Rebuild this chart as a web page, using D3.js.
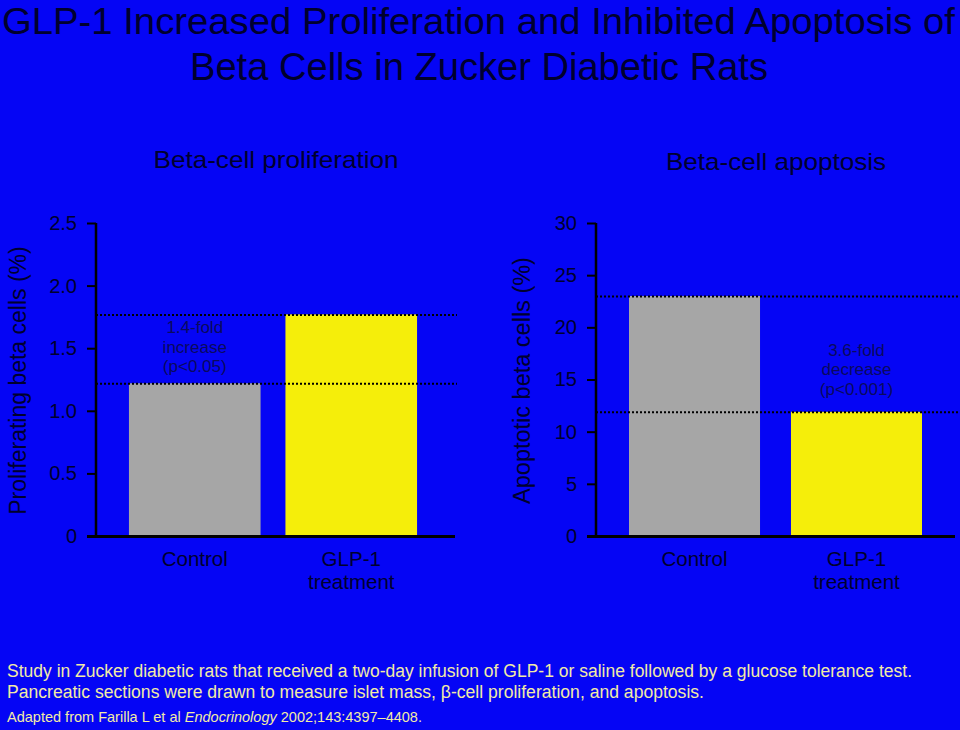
<!DOCTYPE html>
<html>
<head>
<meta charset="utf-8">
<script src="https://cdn.jsdelivr.net/npm/d3@7"></script>
<style>
  html, body { margin: 0; padding: 0; background: #0505F5; }
  svg { display: block; }
</style>
</head>
<body>
<svg id="chart" width="960" height="730"></svg>
<script>
// ---------- data ----------
const categories = ["Control", "GLP-1 treatment"];
const categoryLines = [["Control"], ["GLP-1", "treatment"]];
const proliferationValues = [1.22, 1.77];
const apoptosisValues = [23.0, 11.9];
const proliferationTicks = [0, 0.5, 1.0, 1.5, 2.0, 2.5];
const proliferationTickLabels = ["0", "0.5", "1.0", "1.5", "2.0", "2.5"];
const apoptosisTicks = [0, 5, 10, 15, 20, 25, 30];
const apoptosisTickLabels = ["0", "5", "10", "15", "20", "25", "30"];
const titleLines = ["GLP-1 Increased Proliferation and Inhibited Apoptosis of", "Beta Cells in Zucker Diabetic Rats"];
const panelTitles = ["Beta-cell proliferation", "Beta-cell apoptosis"];
const axisTitles = ["Proliferating beta cells (%)", "Apoptotic beta cells (%)"];
const annotations = [["1.4-fold", "increase", "(p<0.05)"], ["3.6-fold", "decrease", "(p<0.001)"]];
const footerLines = [
  "Study in Zucker diabetic rats that received a two-day infusion of GLP-1 or saline followed by a glucose tolerance test.",
  "Pancreatic sections were drawn to measure islet mass, \u03B2-cell proliferation, and apoptosis."
];
const citation = ["Adapted from Farilla L et al ", "Endocrinology", " 2002;143:4397\u20134408."];

// ---------- style ----------
const BG = "#0505F5";
const INK = "#00002E";
const ANN = "#0A0A5E";
const FOOT = "#F2EBA6";
const GRAY = "#A6A6A6";
const YELLOW = "#F5EE0A";
const NARROW = "'Liberation Sans Narrow','Arial Narrow','Liberation Sans',Arial,sans-serif";
const SANS = "'Liberation Sans',Arial,Helvetica,sans-serif";

const svg = d3.select("#chart");
svg.append("rect").attr("width", 960).attr("height", 730).attr("fill", BG);

// title
svg.append("text").attr("x", 2).attr("y", 34)
  .attr("font-family", NARROW).attr("font-size", 37.5).attr("fill", INK)
  .attr("textLength", 953).attr("lengthAdjust", "spacingAndGlyphs")
  .text(titleLines[0]);
svg.append("text").attr("x", 190).attr("y", 80)
  .attr("font-family", NARROW).attr("font-size", 39).attr("fill", INK)
  .attr("textLength", 578).attr("lengthAdjust", "spacingAndGlyphs")
  .text(titleLines[1]);

// ---------- panels ----------
const panels = [
  {
    values: proliferationValues, ticks: proliferationTicks, tickLabels: proliferationTickLabels,
    domain: [0, 2.5], axisX: 96, endX: 455, dotEnd: 457,
    bandRange: [113.3, 432.7], inner: 0.159, outer: 0.1,
    title: panelTitles[0], titleX: 276, titleY: 168, titleLen: 245,
    axisTitle: axisTitles[0], axisTitleX: 26, axisTitleSize: 23,
    ann: annotations[0], annIndex: 0, annRef: 0, annOffset: 11
  },
  {
    values: apoptosisValues, ticks: apoptosisTicks, tickLabels: apoptosisTickLabels,
    domain: [0, 30], axisX: 596, endX: 955, dotEnd: 960,
    bandRange: [612.8, 938.2], inner: 0.191, outer: 0.1,
    title: panelTitles[1], titleX: 776, titleY: 170, titleLen: 220,
    axisTitle: axisTitles[1], axisTitleX: 530, axisTitleSize: 23.5,
    ann: annotations[1], annIndex: 1, annRef: 1, annOffset: 17
  }
];

const y0 = 536, yTop = 223;

panels.forEach(p => {
  const y = d3.scaleLinear().domain(p.domain).range([y0, yTop]);
  const x = d3.scaleBand().domain(categories).range(p.bandRange)
    .paddingInner(p.inner).paddingOuter(p.outer);
  const g = svg.append("g");

  // panel title
  g.append("text").attr("x", p.titleX).attr("y", p.titleY).attr("text-anchor", "middle")
    .attr("font-family", SANS).attr("font-size", 24).attr("fill", INK)
    .attr("textLength", p.titleLen).attr("lengthAdjust", "spacingAndGlyphs")
    .text(p.title);

  // bars
  g.selectAll("rect.bar").data(p.values).enter().append("rect")
    .attr("class", "bar")
    .attr("x", (d, i) => x(categories[i]))
    .attr("width", x.bandwidth())
    .attr("y", d => y(d))
    .attr("height", d => y(0) - y(d))
    .attr("fill", (d, i) => i === 0 ? GRAY : YELLOW);

  // dotted reference lines
  g.selectAll("line.ref").data(p.values).enter().append("line")
    .attr("x1", p.axisX).attr("x2", p.dotEnd)
    .attr("y1", d => y(d) + 0.5).attr("y2", d => y(d) + 0.5)
    .attr("stroke", "#000").attr("stroke-width", 2).attr("stroke-dasharray", "2,2");

  // y axis
  const yAxis = d3.axisLeft(y).tickValues(p.ticks)
    .tickFormat((d, i) => p.tickLabels[i]).tickSize(9).tickPadding(10);
  const ya = g.append("g").attr("transform", `translate(${p.axisX},0)`).call(yAxis);
  ya.select(".domain").attr("stroke", "#000").attr("stroke-width", 2.5)
    .attr("d", `M0,${yTop}V${y0}`);
  ya.selectAll(".tick line").attr("stroke", "#000").attr("stroke-width", 2);
  ya.selectAll(".tick text").attr("font-family", SANS).attr("font-size", 20).attr("fill", INK);

  // x axis line
  g.append("line").attr("x1", p.axisX - 9).attr("x2", p.endX)
    .attr("y1", y0 + 0.5).attr("y2", y0 + 0.5)
    .attr("stroke", "#000").attr("stroke-width", 3);

  // category labels (multi-line labels as tspans of one text)
  categoryLines.forEach((lines, i) => {
    const cx = x(categories[i]) + x.bandwidth() / 2;
    const t = g.append("text").attr("x", cx).attr("y", 566).attr("text-anchor", "middle")
      .attr("font-family", SANS).attr("font-size", 20.5).attr("fill", INK);
    lines.forEach((ln, j) => {
      t.append("tspan").attr("x", cx).attr("y", 566 + j * 23).text(ln);
    });
  });

  // axis title
  g.append("text")
    .attr("transform", `translate(${p.axisTitleX},${(yTop + y0) / 2 + 1}) rotate(-90)`)
    .attr("text-anchor", "middle").attr("font-family", SANS).attr("font-size", p.axisTitleSize)
    .attr("fill", INK).text(p.axisTitle);

  // annotation
  const ax = x(categories[p.annIndex]) + x.bandwidth() / 2;
  const lastBase = y(p.values[p.annRef]) - p.annOffset;
  const at = g.append("text").attr("text-anchor", "middle").attr("font-family", SANS)
    .attr("font-size", 17).attr("fill", ANN);
  p.ann.forEach((ln, j) => {
    at.append("tspan").attr("x", ax).attr("y", lastBase - (p.ann.length - 1 - j) * 19.5).text(ln);
  });
});

// ---------- footer ----------
svg.append("text").attr("x", 7).attr("y", 677)
  .attr("font-family", NARROW).attr("font-size", 18).attr("fill", FOOT)
  .attr("textLength", 905).attr("lengthAdjust", "spacingAndGlyphs").text(footerLines[0]);
svg.append("text").attr("x", 7).attr("y", 698)
  .attr("font-family", NARROW).attr("font-size", 18).attr("fill", FOOT)
  .attr("textLength", 697).attr("lengthAdjust", "spacingAndGlyphs").text(footerLines[1]);
const cit = svg.append("text").attr("x", 7).attr("y", 722)
  .attr("font-family", NARROW).attr("font-size", 15).attr("fill", FOOT)
  .attr("textLength", 415).attr("lengthAdjust", "spacingAndGlyphs");
cit.append("tspan").text(citation[0]);
cit.append("tspan").attr("font-style", "italic").text(citation[1]);
cit.append("tspan").text(citation[2]);
</script>
</body>
</html>
